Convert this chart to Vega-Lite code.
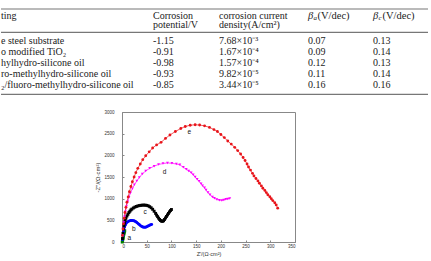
{
  "$schema": "https://vega.github.io/schema/vega-lite/v6.json",
  "padding": 0,
  "background": "white",
  "bounds": "flush",
  "spacing": 12,
  "config": {"view": {"stroke": null}, "font": "Liberation Sans"},
  "vconcat": [
    {
      "width": 427,
      "height": 100,
      "data": {"values": [
        {"r": 0, "c": 0, "t": "ting"},
        {"r": 0, "c": 1, "t": "Corrosion"},
        {"r": 0, "c": 2, "t": " corrosion current"},
        {"r": 1, "c": 1, "t": "potential/V"},
        {"r": 1, "c": 2, "t": "density(A/cm²)"},
        {"r": 2, "c": 0, "t": "e steel substrate"},
        {"r": 2, "c": 1, "t": "-1.15"},
        {"r": 2, "c": 2, "t": "7.68×10⁻³"},
        {"r": 2, "c": 3, "t": "0.07"},
        {"r": 2, "c": 4, "t": "0.13"},
        {"r": 3, "c": 0, "t": "o modified TiO₂"},
        {"r": 3, "c": 1, "t": "-0.91"},
        {"r": 3, "c": 2, "t": "1.67×10⁻⁴"},
        {"r": 3, "c": 3, "t": "0.09"},
        {"r": 3, "c": 4, "t": "0.14"},
        {"r": 4, "c": 0, "t": "hylhydro-silicone oil"},
        {"r": 4, "c": 1, "t": "-0.98"},
        {"r": 4, "c": 2, "t": "1.57×10⁻⁴"},
        {"r": 4, "c": 3, "t": "0.12"},
        {"r": 4, "c": 4, "t": "0.13"},
        {"r": 5, "c": 0, "t": "ro-methylhydro-silicone oil"},
        {"r": 5, "c": 1, "t": "-0.93"},
        {"r": 5, "c": 2, "t": "9.82×10⁻⁵"},
        {"r": 5, "c": 3, "t": "0.11"},
        {"r": 5, "c": 4, "t": "0.14"},
        {"r": 6, "c": 0, "t": "₂/fluoro-methylhydro-silicone oil"},
        {"r": 6, "c": 1, "t": "-0.85"},
        {"r": 6, "c": 2, "t": "3.44×10⁻⁵"},
        {"r": 6, "c": 3, "t": "0.16"},
        {"r": 6, "c": 4, "t": "0.16"}
      ]},
      "encoding": {
        "x": {"field": "c", "type": "quantitative", "axis": null,
              "scale": {"domain": [0, 1, 2, 3, 4], "range": [0, 152, 218, 307, 372], "nice": false, "zero": false}},
        "y": {"field": "r", "type": "quantitative", "axis": null,
              "scale": {"domain": [-1, 0, 1, 1.5, 2, 3, 4, 5, 6, 7], "range": [9, 15.7, 25.3, 32.3, 41, 52, 62.7, 73.7, 84.7, 94.3], "nice": false, "zero": false}}
      },
      "layer": [
        {
          "mark": {"type": "text", "align": "left", "baseline": "middle", "fontSize": 10, "font": "Liberation Serif", "color": "#222"},
          "encoding": {"text": {"field": "t"}}
        },
        {
          "data": {"values": [{"r": 0, "c": 3, "sub": "a"}, {"r": 0, "c": 4, "sub": "c"}]},
          "layer": [
            {"mark": {"type": "text", "align": "left", "baseline": "middle", "fontSize": 10.5, "font": "Liberation Serif", "fontStyle": "italic", "color": "#222"},
             "encoding": {"text": {"value": "β"}}},
            {"mark": {"type": "text", "align": "left", "baseline": "middle", "fontSize": 7, "font": "Liberation Serif", "fontStyle": "italic", "color": "#222", "dx": 5.5, "dy": 2},
             "encoding": {"text": {"field": "sub"}}},
            {"mark": {"type": "text", "align": "left", "baseline": "middle", "fontSize": 10.5, "font": "Liberation Serif", "color": "#222", "dx": 9.5},
             "encoding": {"text": {"value": "(V/dec)"}}}
          ]
        },
        {
          "data": {"values": [{"r": -1}, {"r": 1.5}, {"r": 7}]},
          "mark": {"type": "rule", "color": "#777", "strokeWidth": 1.2},
          "encoding": {"y": {"field": "r", "type": "quantitative"}, "x": null}
        }
      ]
    },
    {
      "bounds": "flush",
      "spacing": 0,
      "hconcat": [
        {
          "width": 121,
          "height": 130,
          "data": {"values": [{}]},
          "mark": {"type": "text"},
          "encoding": {"text": {"value": ""}}
        },
        {
          "width": 173,
          "height": 130,
          "view": {"stroke": "#888", "strokeWidth": 1},
          "data": {"values": [
            {"s": "a", "x": 0.5, "y": 0}, {"s": "a", "x": 1, "y": 25}, {"s": "a", "x": 1.5, "y": 50}, {"s": "a", "x": 2, "y": 80},
            {"s": "a", "x": 2.5, "y": 110}, {"s": "a", "x": 3, "y": 140}, {"s": "a", "x": 3.5, "y": 170}, {"s": "a", "x": 4, "y": 200},
            {"s": "a", "x": 4.5, "y": 225}, {"s": "a", "x": 5, "y": 245}, {"s": "a", "x": 5.5, "y": 258},
            {"s": "b", "x": 1, "y": 60}, {"s": "b", "x": 2, "y": 150}, {"s": "b", "x": 3, "y": 230}, {"s": "b", "x": 4, "y": 290},
            {"s": "b", "x": 5, "y": 340}, {"s": "b", "x": 6.5, "y": 385}, {"s": "b", "x": 8, "y": 420}, {"s": "b", "x": 10, "y": 450},
            {"s": "b", "x": 12, "y": 470}, {"s": "b", "x": 14, "y": 482}, {"s": "b", "x": 16, "y": 490}, {"s": "b", "x": 18, "y": 494},
            {"s": "b", "x": 20, "y": 495}, {"s": "b", "x": 22, "y": 493}, {"s": "b", "x": 24, "y": 488}, {"s": "b", "x": 26, "y": 478},
            {"s": "b", "x": 28, "y": 465}, {"s": "b", "x": 30, "y": 448}, {"s": "b", "x": 32, "y": 430}, {"s": "b", "x": 34, "y": 410},
            {"s": "b", "x": 36, "y": 390}, {"s": "b", "x": 38, "y": 372}, {"s": "b", "x": 40, "y": 357}, {"s": "b", "x": 42, "y": 346},
            {"s": "b", "x": 44, "y": 340}, {"s": "b", "x": 46, "y": 338}, {"s": "b", "x": 48, "y": 342}, {"s": "b", "x": 50, "y": 350},
            {"s": "b", "x": 52, "y": 362}, {"s": "b", "x": 54, "y": 375}, {"s": "b", "x": 56, "y": 388}, {"s": "b", "x": 58, "y": 398},
            {"s": "b", "x": 60, "y": 405},
            {"s": "c", "x": 1, "y": 80}, {"s": "c", "x": 2, "y": 200}, {"s": "c", "x": 3, "y": 300}, {"s": "c", "x": 4, "y": 380},
            {"s": "c", "x": 5, "y": 440}, {"s": "c", "x": 6.5, "y": 500}, {"s": "c", "x": 8, "y": 550}, {"s": "c", "x": 10, "y": 600},
            {"s": "c", "x": 12, "y": 640}, {"s": "c", "x": 14, "y": 680}, {"s": "c", "x": 16, "y": 710}, {"s": "c", "x": 18, "y": 740},
            {"s": "c", "x": 20, "y": 760}, {"s": "c", "x": 23, "y": 785}, {"s": "c", "x": 26, "y": 805}, {"s": "c", "x": 29, "y": 820},
            {"s": "c", "x": 32, "y": 832}, {"s": "c", "x": 35, "y": 840}, {"s": "c", "x": 38, "y": 846}, {"s": "c", "x": 41, "y": 850},
            {"s": "c", "x": 44, "y": 852}, {"s": "c", "x": 47, "y": 850}, {"s": "c", "x": 50, "y": 845}, {"s": "c", "x": 53, "y": 835},
            {"s": "c", "x": 56, "y": 815}, {"s": "c", "x": 59, "y": 790}, {"s": "c", "x": 62, "y": 755}, {"s": "c", "x": 65, "y": 710},
            {"s": "c", "x": 68, "y": 660}, {"s": "c", "x": 70, "y": 620}, {"s": "c", "x": 72, "y": 585}, {"s": "c", "x": 74, "y": 550},
            {"s": "c", "x": 76, "y": 520}, {"s": "c", "x": 78, "y": 495}, {"s": "c", "x": 80, "y": 480}, {"s": "c", "x": 82, "y": 478},
            {"s": "c", "x": 84, "y": 490}, {"s": "c", "x": 86, "y": 520}, {"s": "c", "x": 88, "y": 555}, {"s": "c", "x": 90, "y": 590},
            {"s": "c", "x": 92, "y": 625}, {"s": "c", "x": 94, "y": 660}, {"s": "c", "x": 96, "y": 695}, {"s": "c", "x": 98, "y": 725},
            {"s": "c", "x": 100, "y": 750},
            {"s": "d", "x": 1, "y": 150}, {"s": "d", "x": 2, "y": 300}, {"s": "d", "x": 3.5, "y": 450}, {"s": "d", "x": 5, "y": 580},
            {"s": "d", "x": 7, "y": 700}, {"s": "d", "x": 9, "y": 820}, {"s": "d", "x": 11.5, "y": 930}, {"s": "d", "x": 14, "y": 1030},
            {"s": "d", "x": 17, "y": 1130}, {"s": "d", "x": 21, "y": 1230}, {"s": "d", "x": 25, "y": 1320}, {"s": "d", "x": 30, "y": 1410},
            {"s": "d", "x": 35, "y": 1490}, {"s": "d", "x": 41, "y": 1570}, {"s": "d", "x": 48, "y": 1640}, {"s": "d", "x": 56, "y": 1700},
            {"s": "d", "x": 65, "y": 1750}, {"s": "d", "x": 74, "y": 1790}, {"s": "d", "x": 83, "y": 1810}, {"s": "d", "x": 92, "y": 1825},
            {"s": "d", "x": 101, "y": 1815}, {"s": "d", "x": 110, "y": 1800}, {"s": "d", "x": 117, "y": 1780}, {"s": "d", "x": 124, "y": 1725},
            {"s": "d", "x": 130, "y": 1680}, {"s": "d", "x": 135, "y": 1640}, {"s": "d", "x": 140, "y": 1600}, {"s": "d", "x": 144, "y": 1550},
            {"s": "d", "x": 148, "y": 1500}, {"s": "d", "x": 152, "y": 1450}, {"s": "d", "x": 156, "y": 1400}, {"s": "d", "x": 160, "y": 1345},
            {"s": "d", "x": 163, "y": 1300}, {"s": "d", "x": 167, "y": 1250}, {"s": "d", "x": 170, "y": 1200}, {"s": "d", "x": 174, "y": 1140},
            {"s": "d", "x": 178, "y": 1090}, {"s": "d", "x": 183, "y": 1040}, {"s": "d", "x": 187, "y": 1010}, {"s": "d", "x": 192, "y": 980},
            {"s": "d", "x": 197, "y": 965}, {"s": "d", "x": 202, "y": 960}, {"s": "d", "x": 206, "y": 970}, {"s": "d", "x": 210, "y": 985},
            {"s": "d", "x": 214, "y": 995}, {"s": "d", "x": 218, "y": 1005},
            {"s": "e", "x": 1, "y": 150}, {"s": "e", "x": 2, "y": 300}, {"s": "e", "x": 3, "y": 420}, {"s": "e", "x": 4.5, "y": 550},
            {"s": "e", "x": 6, "y": 680}, {"s": "e", "x": 8, "y": 800}, {"s": "e", "x": 10, "y": 920}, {"s": "e", "x": 12.5, "y": 1040},
            {"s": "e", "x": 15, "y": 1160}, {"s": "e", "x": 18, "y": 1280}, {"s": "e", "x": 21, "y": 1390}, {"s": "e", "x": 24.5, "y": 1500},
            {"s": "e", "x": 28, "y": 1600}, {"s": "e", "x": 32, "y": 1700}, {"s": "e", "x": 37, "y": 1800}, {"s": "e", "x": 42, "y": 1900},
            {"s": "e", "x": 48, "y": 1990}, {"s": "e", "x": 55, "y": 2080}, {"s": "e", "x": 62, "y": 2170}, {"s": "e", "x": 70, "y": 2240},
            {"s": "e", "x": 79, "y": 2300}, {"s": "e", "x": 88, "y": 2390}, {"s": "e", "x": 97, "y": 2470}, {"s": "e", "x": 108, "y": 2550},
            {"s": "e", "x": 119, "y": 2620}, {"s": "e", "x": 128, "y": 2665}, {"s": "e", "x": 138, "y": 2695}, {"s": "e", "x": 148, "y": 2705},
            {"s": "e", "x": 157, "y": 2700}, {"s": "e", "x": 167, "y": 2680}, {"s": "e", "x": 177, "y": 2645}, {"s": "e", "x": 186, "y": 2595},
            {"s": "e", "x": 193, "y": 2550}, {"s": "e", "x": 200, "y": 2480}, {"s": "e", "x": 207, "y": 2410}, {"s": "e", "x": 214, "y": 2330},
            {"s": "e", "x": 221, "y": 2260}, {"s": "e", "x": 228, "y": 2185}, {"s": "e", "x": 234, "y": 2110}, {"s": "e", "x": 240, "y": 2030},
            {"s": "e", "x": 245, "y": 1950}, {"s": "e", "x": 249, "y": 1880}, {"s": "e", "x": 253, "y": 1800}, {"s": "e", "x": 256, "y": 1730},
            {"s": "e", "x": 260, "y": 1660}, {"s": "e", "x": 264, "y": 1585}, {"s": "e", "x": 267, "y": 1525}, {"s": "e", "x": 271, "y": 1465},
            {"s": "e", "x": 275, "y": 1410}, {"s": "e", "x": 278, "y": 1355}, {"s": "e", "x": 282, "y": 1295}, {"s": "e", "x": 285, "y": 1240},
            {"s": "e", "x": 289, "y": 1190}, {"s": "e", "x": 292, "y": 1140}, {"s": "e", "x": 295, "y": 1090}, {"s": "e", "x": 299, "y": 1045},
            {"s": "e", "x": 302, "y": 1000}, {"s": "e", "x": 305, "y": 955}, {"s": "e", "x": 309, "y": 905}, {"s": "e", "x": 312, "y": 855},
            {"s": "e", "x": 315, "y": 780}
          ]},
          "encoding": {
            "x": {"field": "x", "type": "quantitative",
                  "scale": {"domain": [0, 350], "nice": false},
                  "axis": {"title": "Z'/(Ω·cm²)", "values": [0, 50, 100, 150, 200, 250, 300, 350], "grid": false, "format": "d",
                           "tickSize": -2, "labelPadding": 3, "labelFontSize": 4.5, "titleFontSize": 5.5, "titlePadding": 4,
                           "titleFontWeight": "normal", "domainColor": "#888", "tickColor": "#888", "labelColor": "#333", "titleColor": "#333"}},
            "y": {"field": "y", "type": "quantitative",
                  "scale": {"domain": [0, 3000], "nice": false},
                  "axis": {"title": "-Z''/(Ω·cm²)", "values": [0, 500, 1000, 1500, 2000, 2500, 3000], "grid": false, "format": "d",
                           "tickSize": -2, "labelPadding": 10, "labelFontSize": 4.5, "titleFontSize": 6, "titlePadding": 3,
                           "titleFontWeight": "normal", "domainColor": "#888", "tickColor": "#888", "labelColor": "#333", "titleColor": "#333"}}
          },
          "layer": [
            {
              "mark": {"type": "line", "strokeWidth": 0.7},
              "encoding": {
                "color": {"field": "s", "type": "nominal", "legend": null,
                          "scale": {"domain": ["a", "b", "c", "d", "e"], "range": ["#008000", "#0000ff", "#000000", "#ff00ff", "#e8141a"]}}
              }
            },
            {
              "mark": {"type": "point", "filled": true, "opacity": 1},
              "encoding": {
                "color": {"field": "s", "type": "nominal", "legend": null},
                "shape": {"field": "s", "type": "nominal", "legend": null,
                          "scale": {"domain": ["a", "b", "c", "d", "e"], "range": ["square", "circle", "square", "triangle-down", "circle"]}},
                "size": {"field": "s", "type": "nominal", "legend": null,
                         "scale": {"domain": ["a", "b", "c", "d", "e"], "range": [9, 8, 7, 13, 12]}}
              }
            },
            {
              "data": {"values": [
                {"x": 15, "y": 100, "lab": "a"}, {"x": 24, "y": 305, "lab": "b"}, {"x": 47, "y": 685, "lab": "c"},
                {"x": 86, "y": 1610, "lab": "d"}, {"x": 136, "y": 2550, "lab": "e"}
              ]},
              "mark": {"type": "text", "fontSize": 6.5, "font": "Liberation Sans", "color": "#111"},
              "encoding": {"text": {"field": "lab"}}
            }
          ]
        }
      ]
    }
  ]
}
